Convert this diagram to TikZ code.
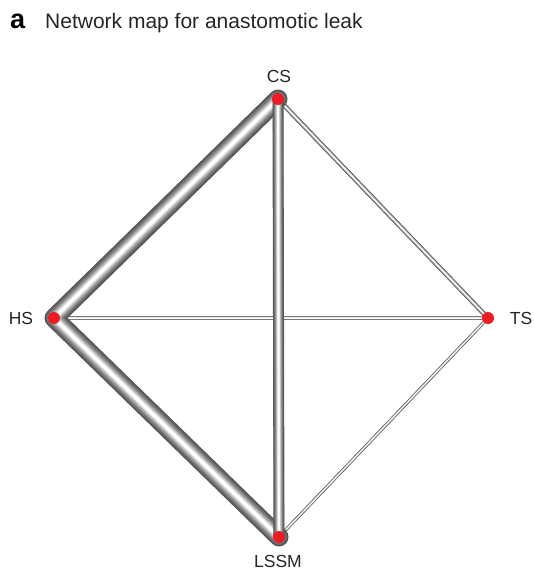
\documentclass[tikz,border=0pt]{standalone}
\usepackage{fontspec}
\setmainfont{Liberation Sans}
\definecolor{tubedark}{RGB}{85,85,85}
\definecolor{dotred}{RGB}{236,28,36}
\newcommand\tubepath[2]{%
  \foreach \k in {0,...,11}{%
    \pgfmathsetmacro\lw{#2*(1-\k/13)}%
    \pgfmathsetmacro\sh{100*(\k/11)^1.5}%
    \draw[line width=\lw pt, color=white!\sh!tubedark, line cap=round, line join=round] #1;
  }}
\tikzset{
  netdot/.style={circle, fill=dotred, inner sep=0pt, minimum size=12pt},
  netlabel/.style={anchor=base, font=\fontsize{17.5}{20}\selectfont, text=black!85, inner sep=0pt}
}
\begin{document}
\begin{tikzpicture}[x=1pt,y=-1pt]
\useasboundingbox[fill=white] (0,0) rectangle (534,571);
\node[anchor=base west, inner sep=0pt, font=\fontsize{27}{30}\selectfont\bfseries] (panel) at (10,28) {a};
\node[anchor=base west, inner sep=0pt, font=\fontsize{21}{25}\selectfont, text=black!85] (title) at (45,28) {Network map for anastomotic leak};
\coordinate (CS) at (278,99);
\coordinate (HS) at (54,318);
\coordinate (TS) at (488,318);
\coordinate (LSSM) at (279,537);
% thin edges
\tubepath{(TS) -- (LSSM)}{3}
\tubepath{(CS) -- (TS)}{4.5}
\tubepath{(HS) -- (TS)}{4.5}
% thick edges
\tubepath{(CS) -- (HS) -- (LSSM)}{19}
\tubepath{(CS) -- (LSSM)}{11}
% dots
\node[netdot] (csdot) at (CS) {};
\node[netdot] (hsdot) at (HS) {};
\node[netdot] (tsdot) at (TS) {};
\node[netdot] (lssmdot) at (LSSM) {};
% labels
\node[netlabel] (cslab) at (279,82) {CS};
\node[netlabel] (hslab) at (21,324) {HS};
\node[netlabel] (tslab) at (521,324) {TS};
\node[netlabel] (lssmlab) at (278,567) {LSSM};
\end{tikzpicture}
\end{document}
